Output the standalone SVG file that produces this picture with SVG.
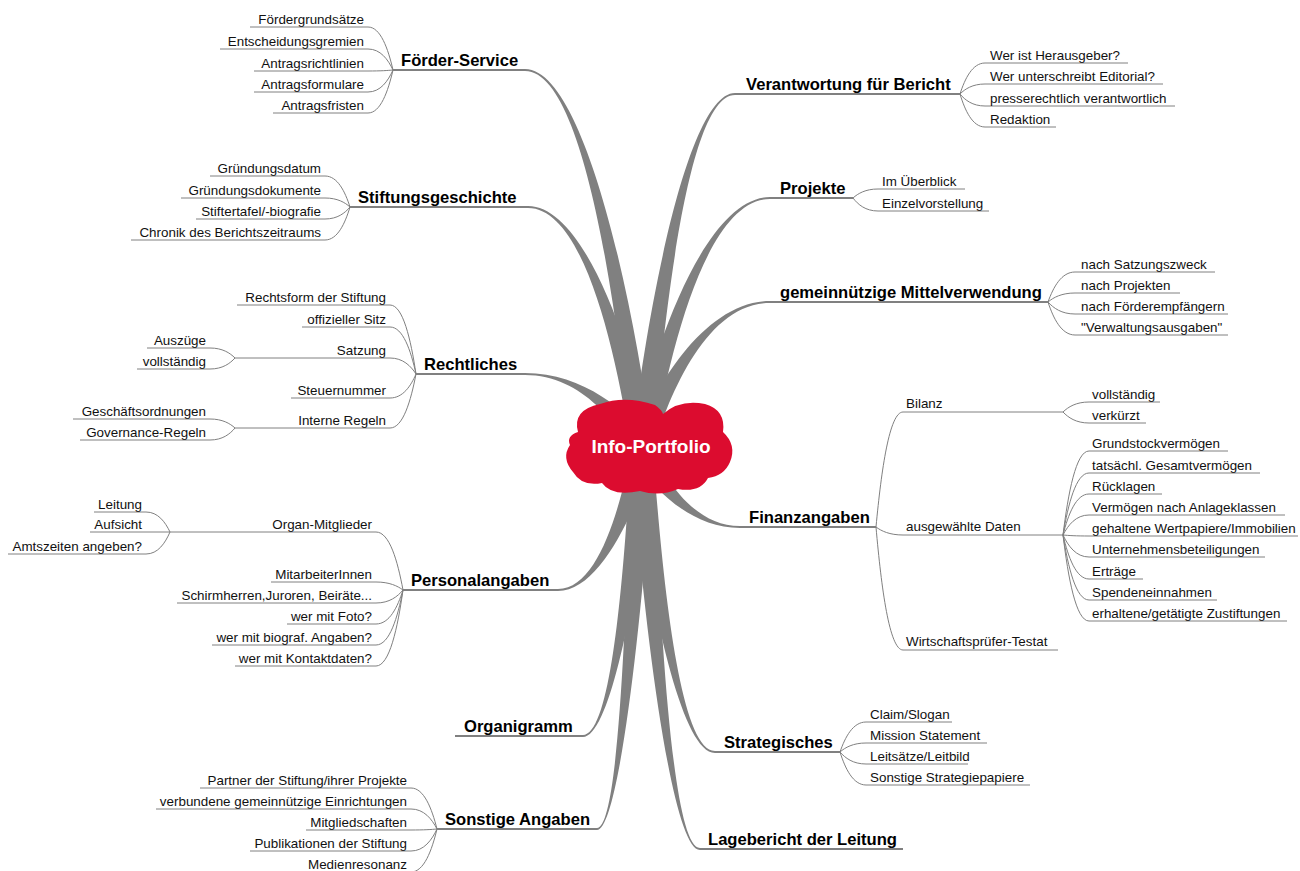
<svg xmlns="http://www.w3.org/2000/svg" width="1300" height="871" viewBox="0 0 1300 871">
<style>
.b{fill:#808080}
.ul{stroke:#808080;stroke-width:1;fill:none}
.mul{stroke:#808080;stroke-width:2;fill:none}
.e{stroke:#808080;stroke-width:1;fill:none}
.t{font-family:"Liberation Sans",Arial,sans-serif;font-size:13.4px;fill:#111}
.m{font-family:"Liberation Sans",Arial,sans-serif;font-size:16.6px;font-weight:bold;fill:#000}
.r{text-anchor:end}
</style>
<rect width="1300" height="871" fill="#fff"/>
<g id="connectors">
<g id="main-branches">
<path class="b" d="M652.5,446.8 C632.9,295.4 583.5,69 525,69 L525,71 C583.5,71 616.1,300.6 631.5,453.2 Z"/>
<path class="b" d="M652,445.3 C632.9,348.7 585,206 528,206 L528,208 C585,208 616.9,356.1 632,454.7 Z"/>
<path class="b" d="M648,440.8 C629.3,412.2 583.5,373 525,373 L525,375 C583.5,375 619.7,427 636,459.2 Z"/>
<path class="b" d="M632.7,444.2 C621.5,501.4 600,589 558,589 L558,591 C600,591 636.5,510.6 651.3,455.8 Z"/>
<path class="b" d="M631.2,447.8 C624.6,562.6 612.5,735 583,735 L583,737 C612.5,737 641.8,566.2 652.8,452.2 Z"/>
<path class="b" d="M631.1,448.7 C626.6,600.6 619.5,828 597,828 L597,830 C619.5,830 644,602.6 652.9,451.3 Z"/>
<path class="b" d="M652.6,452.8 C664.5,310.2 688.5,95 735,95 L735,93 C688.5,93 647.5,305.8 631.4,447.2 Z"/>
<path class="b" d="M651.8,455 C669,353.2 706,199 770,199 L770,197 C706,197 653.4,345.2 632.2,445 Z"/>
<path class="b" d="M650.3,457.2 C667.9,396.6 706,303 770,303 L770,301 C706,301 654.5,385.1 633.7,442.8 Z"/>
<path class="b" d="M635.2,458.7 C651.3,487.7 691,528 740,528 L740,526 C691,526 662.1,473.9 648.8,441.4 Z"/>
<path class="b" d="M631.3,452.6 C644.4,572.9 678.5,753 715,753 L715,751 C678.5,751 661.6,568.7 652.7,447.4 Z"/>
<path class="b" d="M631.1,451.6 C642,610.9 671,850 700,850 L700,848 C671,848 659.4,608.3 652.9,448.4 Z"/>
</g>
<g id="sub-edges">
<path class="e" d="M393,70 C388,48.5 380.5,27 368,27"/>
<path class="e" d="M393,70 C388,59.5 380.5,49 368,49"/>
<path class="e" d="M393,70 C388,70.5 380.5,71 368,71"/>
<path class="e" d="M393,70 C388,81 380.5,92 368,92"/>
<path class="e" d="M393,70 C388,91.5 380.5,113 368,113"/>
<path class="e" d="M350,207 C345,191.5 337.5,176 325,176"/>
<path class="e" d="M350,207 C345,202.5 337.5,198 325,198"/>
<path class="e" d="M350,207 C345,213 337.5,219 325,219"/>
<path class="e" d="M350,207 C345,223.5 337.5,240 325,240"/>
<path class="e" d="M416,374 C410.8,339.5 403,305 390,305"/>
<path class="e" d="M416,374 C410.8,350.5 403,327 390,327"/>
<path class="e" d="M416,374 C410.8,366 403,358 390,358"/>
<path class="e" d="M416,374 C410.8,386 403,398 390,398"/>
<path class="e" d="M416,374 C410.8,401 403,428 390,428"/>
<path class="e" d="M235,358 C230,353 222.5,348 210,348"/>
<path class="e" d="M235,358 C230,363.5 222.5,369 210,369"/>
<path class="e" d="M235,428 C230,423.5 222.5,419 210,419"/>
<path class="e" d="M235,428 C230,434 222.5,440 210,440"/>
<path class="e" d="M403,590 C397.6,561 389.5,532 376,532"/>
<path class="e" d="M403,590 C397.6,586 389.5,582 376,582"/>
<path class="e" d="M403,590 C397.6,596.5 389.5,603 376,603"/>
<path class="e" d="M403,590 C397.6,607 389.5,624 376,624"/>
<path class="e" d="M403,590 C397.6,617.5 389.5,645 376,645"/>
<path class="e" d="M403,590 C397.6,628 389.5,666 376,666"/>
<path class="e" d="M170,532 C165.2,522 158,512 146,512"/>
<path class="e" d="M170,532 L146,532"/>
<path class="e" d="M170,532 C165.2,543 158,554 146,554"/>
<path class="e" d="M437,829 C431.8,808.5 424,788 411,788"/>
<path class="e" d="M437,829 C431.8,819 424,809 411,809"/>
<path class="e" d="M437,829 C431.8,829.5 424,830 411,830"/>
<path class="e" d="M437,829 C431.8,840 424,851 411,851"/>
<path class="e" d="M437,829 C431.8,850.5 424,872 411,872"/>
<path class="e" d="M960,94 C965,78.5 972.5,63 985,63"/>
<path class="e" d="M960,94 C965,89 972.5,84 985,84"/>
<path class="e" d="M960,94 C965,100 972.5,106 985,106"/>
<path class="e" d="M960,94 C965,110.5 972.5,127 985,127"/>
<path class="e" d="M853,198 C858,193.5 865.5,189 878,189"/>
<path class="e" d="M853,198 C858,204.5 865.5,211 878,211"/>
<path class="e" d="M1048,302 C1053.4,287 1061.5,272 1075,272"/>
<path class="e" d="M1048,302 C1053.4,297.5 1061.5,293 1075,293"/>
<path class="e" d="M1048,302 C1053.4,308 1061.5,314 1075,314"/>
<path class="e" d="M1048,302 C1053.4,318.5 1061.5,335 1075,335"/>
<path class="e" d="M876,527 C881.4,469.5 889.5,412 903,412"/>
<path class="e" d="M876,527 C881.4,531 889.5,535 903,535"/>
<path class="e" d="M876,527 C881.4,588.5 889.5,650 903,650"/>
<path class="e" d="M1063,412 C1068.2,407 1076,402 1089,402"/>
<path class="e" d="M1063,412 C1068.2,417.5 1076,423 1089,423"/>
<path class="e" d="M1063,535 C1068.2,493 1076,451 1089,451"/>
<path class="e" d="M1063,535 C1068.2,504 1076,473 1089,473"/>
<path class="e" d="M1063,535 C1068.2,514.5 1076,494 1089,494"/>
<path class="e" d="M1063,535 C1068.2,525 1076,515 1089,515"/>
<path class="e" d="M1063,535 C1068.2,535.5 1076,536 1089,536"/>
<path class="e" d="M1063,535 C1068.2,546 1076,557 1089,557"/>
<path class="e" d="M1063,535 C1068.2,557 1076,579 1089,579"/>
<path class="e" d="M1063,535 C1068.2,567.5 1076,600 1089,600"/>
<path class="e" d="M1063,535 C1068.2,578 1076,621 1089,621"/>
<path class="e" d="M840,752 C845.2,737 853,722 866,722"/>
<path class="e" d="M840,752 C845.2,747.5 853,743 866,743"/>
<path class="e" d="M840,752 C845.2,758 853,764 866,764"/>
<path class="e" d="M840,752 C845.2,768.5 853,785 866,785"/>
</g>
</g>

<g id="root">
<path fill="#DC0C2F" d="M578,432 Q572,410 600,404 Q625,395 655,405 Q662,410 663,414 Q680,399 705,404 Q726,410 723,432 Q737,445 730,462 Q724,476 708,478 Q700,493 678,489 Q660,497 640,491 Q612,497 602,483 Q582,487 573,472 Q561,458 570,445 Q566,436 578,432 Z"/>
<text x="651" y="453" text-anchor="middle" font-family="Liberation Sans, Arial, sans-serif" font-size="19" font-weight="bold" fill="#fff">Info-Portfolio</text>
</g>

<g id="foerder-service">
<line class="mul" x1="393" y1="70" x2="525" y2="70"/>
<text class="m" x="401" y="66">Förder-Service</text>
<line class="ul" x1="250" y1="27" x2="368" y2="27"/><text class="t r" x="364" y="24">Fördergrundsätze</text>
<line class="ul" x1="220" y1="49" x2="368" y2="49"/><text class="t r" x="364" y="46">Entscheidungsgremien</text>
<line class="ul" x1="254" y1="71" x2="368" y2="71"/><text class="t r" x="364" y="68">Antragsrichtlinien</text>
<line class="ul" x1="254" y1="92" x2="368" y2="92"/><text class="t r" x="364" y="89">Antragsformulare</text>
<line class="ul" x1="273" y1="113" x2="368" y2="113"/><text class="t r" x="364" y="110">Antragsfristen</text>
</g>

<g id="stiftungsgeschichte">
<line class="mul" x1="350" y1="207" x2="528" y2="207"/>
<text class="m" x="358" y="203">Stiftungsgeschichte</text>
<line class="ul" x1="210" y1="176" x2="325" y2="176"/><text class="t r" x="321" y="173">Gründungsdatum</text>
<line class="ul" x1="181" y1="198" x2="325" y2="198"/><text class="t r" x="321" y="195">Gründungsdokumente</text>
<line class="ul" x1="196" y1="219" x2="325" y2="219"/><text class="t r" x="321" y="216">Stiftertafel/-biografie</text>
<line class="ul" x1="131" y1="240" x2="325" y2="240"/><text class="t r" x="321" y="237">Chronik des Berichtszeitraums</text>
</g>

<g id="rechtliches">
<line class="mul" x1="416" y1="374" x2="525" y2="374"/>
<text class="m" x="424" y="370">Rechtliches</text>
<line class="ul" x1="237" y1="305" x2="390" y2="305"/><text class="t r" x="386" y="302">Rechtsform der Stiftung</text>
<line class="ul" x1="302" y1="327" x2="390" y2="327"/><text class="t r" x="386" y="324">offizieller Sitz</text>
<line class="ul" x1="235" y1="358" x2="390" y2="358"/><text class="t r" x="386" y="355">Satzung</text>
<line class="ul" x1="147" y1="348" x2="210" y2="348"/><text class="t r" x="206" y="345">Auszüge</text>
<line class="ul" x1="137" y1="369" x2="210" y2="369"/><text class="t r" x="206" y="366">vollständig</text>
<line class="ul" x1="291" y1="398" x2="390" y2="398"/><text class="t r" x="386" y="395">Steuernummer</text>
<line class="ul" x1="235" y1="428" x2="390" y2="428"/><text class="t r" x="386" y="425">Interne Regeln</text>
<line class="ul" x1="73" y1="419" x2="210" y2="419"/><text class="t r" x="206" y="416">Geschäftsordnungen</text>
<line class="ul" x1="80" y1="440" x2="210" y2="440"/><text class="t r" x="206" y="437">Governance-Regeln</text>
</g>

<g id="personalangaben">
<line class="mul" x1="403" y1="590" x2="558" y2="590"/>
<text class="m" x="411" y="586">Personalangaben</text>
<line class="ul" x1="170" y1="532" x2="376" y2="532"/><text class="t r" x="372" y="529">Organ-Mitglieder</text>
<line class="ul" x1="94" y1="512" x2="146" y2="512"/><text class="t r" x="142" y="509">Leitung</text>
<line class="ul" x1="90" y1="532" x2="146" y2="532"/><text class="t r" x="142" y="529">Aufsicht</text>
<line class="ul" x1="8" y1="554" x2="146" y2="554"/><text class="t r" x="142" y="551">Amtszeiten angeben?</text>
<line class="ul" x1="271" y1="582" x2="376" y2="582"/><text class="t r" x="372" y="579">MitarbeiterInnen</text>
<line class="ul" x1="177" y1="603" x2="376" y2="603"/><text class="t r" x="372" y="600">Schirmherren,Juroren, Beiräte...</text>
<line class="ul" x1="287" y1="624" x2="376" y2="624"/><text class="t r" x="372" y="621">wer mit Foto?</text>
<line class="ul" x1="212" y1="645" x2="376" y2="645"/><text class="t r" x="372" y="642">wer mit biograf. Angaben?</text>
<line class="ul" x1="235" y1="666" x2="376" y2="666"/><text class="t r" x="372" y="663">wer mit Kontaktdaten?</text>
</g>

<g id="organigramm">
<line class="mul" x1="455" y1="736" x2="583" y2="736"/>
<text class="m" x="464" y="732">Organigramm</text>
</g>

<g id="sonstige-angaben">
<line class="mul" x1="437" y1="829" x2="597" y2="829"/>
<text class="m" x="445" y="825">Sonstige Angaben</text>
<line class="ul" x1="200" y1="788" x2="411" y2="788"/><text class="t r" x="407" y="785">Partner der Stiftung/ihrer Projekte</text>
<line class="ul" x1="156" y1="809" x2="411" y2="809"/><text class="t r" x="407" y="806">verbundene gemeinnützige Einrichtungen</text>
<line class="ul" x1="306" y1="830" x2="411" y2="830"/><text class="t r" x="407" y="827">Mitgliedschaften</text>
<line class="ul" x1="250" y1="851" x2="411" y2="851"/><text class="t r" x="407" y="848">Publikationen der Stiftung</text>
<line class="ul" x1="305" y1="872" x2="411" y2="872"/><text class="t r" x="407" y="869">Medienresonanz</text>
</g>

<g id="verantwortung">
<line class="mul" x1="735" y1="94" x2="960" y2="94"/>
<text class="m" x="746" y="90">Verantwortung für Bericht</text>
<line class="ul" x1="985" y1="63" x2="1128" y2="63"/><text class="t" x="990" y="60">Wer ist Herausgeber?</text>
<line class="ul" x1="985" y1="84" x2="1163" y2="84"/><text class="t" x="990" y="81">Wer unterschreibt Editorial?</text>
<line class="ul" x1="985" y1="106" x2="1175" y2="106"/><text class="t" x="990" y="103">presserechtlich verantwortlich</text>
<line class="ul" x1="985" y1="127" x2="1056" y2="127"/><text class="t" x="990" y="124">Redaktion</text>
</g>

<g id="projekte">
<line class="mul" x1="770" y1="198" x2="853" y2="198"/>
<text class="m" x="780" y="194">Projekte</text>
<line class="ul" x1="878" y1="189" x2="965" y2="189"/><text class="t" x="882" y="186">Im Überblick</text>
<line class="ul" x1="878" y1="211" x2="989" y2="211"/><text class="t" x="882" y="208">Einzelvorstellung</text>
</g>

<g id="mittelverwendung">
<line class="mul" x1="770" y1="302" x2="1048" y2="302"/>
<text class="m" x="780" y="298">gemeinnützige Mittelverwendung</text>
<line class="ul" x1="1075" y1="272" x2="1215" y2="272"/><text class="t" x="1081" y="269">nach Satzungszweck</text>
<line class="ul" x1="1075" y1="293" x2="1180" y2="293"/><text class="t" x="1081" y="290">nach Projekten</text>
<line class="ul" x1="1075" y1="314" x2="1228" y2="314"/><text class="t" x="1081" y="311">nach Förderempfängern</text>
<line class="ul" x1="1075" y1="335" x2="1228" y2="335"/><text class="t" x="1081" y="332">"Verwaltungsausgaben"</text>
</g>

<g id="finanzangaben">
<line class="mul" x1="740" y1="527" x2="876" y2="527"/>
<text class="m" x="749" y="523">Finanzangaben</text>
<line class="ul" x1="903" y1="412" x2="1063" y2="412"/><text class="t" x="906" y="408">Bilanz</text>
<line class="ul" x1="1089" y1="402" x2="1160" y2="402"/><text class="t" x="1092" y="399">vollständig</text>
<line class="ul" x1="1089" y1="423" x2="1146" y2="423"/><text class="t" x="1092" y="420">verkürzt</text>
<line class="ul" x1="903" y1="535" x2="1063" y2="535"/><text class="t" x="906" y="531">ausgewählte Daten</text>
<line class="ul" x1="1089" y1="451" x2="1228" y2="451"/><text class="t" x="1092" y="448">Grundstockvermögen</text>
<line class="ul" x1="1089" y1="473" x2="1260" y2="473"/><text class="t" x="1092" y="470">tatsächl. Gesamtvermögen</text>
<line class="ul" x1="1089" y1="494" x2="1162" y2="494"/><text class="t" x="1092" y="491">Rücklagen</text>
<line class="ul" x1="1089" y1="515" x2="1285" y2="515"/><text class="t" x="1092" y="512">Vermögen nach Anlageklassen</text>
<line class="ul" x1="1089" y1="536" x2="1298" y2="536"/><text class="t" x="1092" y="533">gehaltene Wertpapiere/Immobilien</text>
<line class="ul" x1="1089" y1="557" x2="1265" y2="557"/><text class="t" x="1092" y="554">Unternehmensbeteiligungen</text>
<line class="ul" x1="1089" y1="579" x2="1143" y2="579"/><text class="t" x="1092" y="576">Erträge</text>
<line class="ul" x1="1089" y1="600" x2="1217" y2="600"/><text class="t" x="1092" y="597">Spendeneinnahmen</text>
<line class="ul" x1="1089" y1="621" x2="1287" y2="621"/><text class="t" x="1092" y="618">erhaltene/getätigte Zustiftungen</text>
<line class="ul" x1="903" y1="650" x2="1058" y2="650"/><text class="t" x="906" y="646">Wirtschaftsprüfer-Testat</text>
</g>

<g id="strategisches">
<line class="mul" x1="715" y1="752" x2="840" y2="752"/>
<text class="m" x="724" y="748">Strategisches</text>
<line class="ul" x1="866" y1="722" x2="952" y2="722"/><text class="t" x="870" y="719">Claim/Slogan</text>
<line class="ul" x1="866" y1="743" x2="987" y2="743"/><text class="t" x="870" y="740">Mission Statement</text>
<line class="ul" x1="866" y1="764" x2="968" y2="764"/><text class="t" x="870" y="761">Leitsätze/Leitbild</text>
<line class="ul" x1="866" y1="785" x2="1030" y2="785"/><text class="t" x="870" y="782">Sonstige Strategiepapiere</text>
</g>

<g id="lagebericht">
<line class="mul" x1="700" y1="849" x2="903" y2="849"/>
<text class="m" x="708" y="845">Lagebericht der Leitung</text>
</g>
</svg>
